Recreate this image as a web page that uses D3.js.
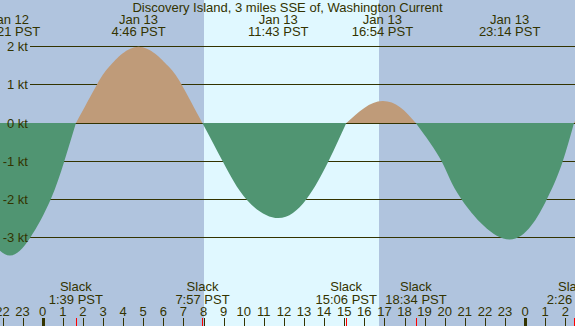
<!DOCTYPE html>
<html>
  <head>
    <title>Discovery Island Current</title>
    <script src="https://d3js.org/d3.v7.min.js"></script>
  </head>
  <body style="margin:0">
    <div id="root"></div>
    <script>
// Chart data: hours are counted from Jan 13 00:00 PST
var title = "Discovery Island, 3 miles SSE of, Washington Current";

var eventDays  = ["Jan 12", "Jan 13", "Jan 13", "Jan 13", "Jan 13"];
var eventTimes = ["22:21 PST", "4:46 PST", "11:43 PST", "16:54 PST", "23:14 PST"];
var eventHours = [-1.65, 4.77, 11.72, 16.9, 23.23];

var slackTimes = ["1:39 PST", "7:57 PST", "15:06 PST", "18:34 PST", "2:26 PST"];
var slackHours = [1.65, 7.95, 15.1, 18.57, 26.43];

// points (hour, knots); each slack (0 kt) starts a new flood/ebb piece
var curveHours = [-3.65, -2.63, -1.63, -0.63, 0.39, 1.07, 1.65,
                  2.69, 3.35, 4.77, 6.23, 6.92, 7.95,
                  8.96, 10.15, 11.72, 13.1, 14.21, 15.1,
                  16.0, 16.9, 17.78, 18.57,
                  19.85, 20.85, 23.23, 25.07, 25.87, 26.43,
                  27.3];
var curveKnots = [-2.0, -3.0, -3.46, -3.0, -2.0, -1.0, 0,
                  1.0, 1.5, 2.0, 1.5, 1.0, 0,
                  -1.0, -2.0, -2.48, -2.0, -1.0, 0,
                  0.4, 0.58, 0.42, 0,
                  -1.0, -2.0, -3.04, -2.0, -1.0, 0,
                  1.0];

var ktLevels = [2, 1, 0, -1, -2, -3];
var ktLabels = ["2 kt", "1 kt", "0 kt", "-1 kt", "-2 kt", "-3 kt"];

var hourTicks  = [-2, -1, 0, 1, 2, 3, 4, 5, 6, 7, 8, 9, 10, 11, 12, 13, 14, 15, 16, 17, 18,
                  19, 20, 21, 22, 23, 24, 25, 26];
var hourLabels = ["22", "23", "0", "1", "2", "3", "4", "5", "6", "7", "8", "9", "10", "11", "12",
                  "13", "14", "15", "16", "17", "18", "19", "20", "21", "22", "23", "0", "1", "2"];

var sunrise = 8.02, sunset = 16.73;

var width = 575, height = 326;
var nightColor = "#b0c4de", dayColor = "#e0f8ff";
var floodColor = "#bf9b79", ebbColor = "#509572";
var ink = "#333300";
var font = "Liberation Sans, Arial, sans-serif";

var svg = d3.select("#root").append("svg")
    .attr("width", width)
    .attr("height", height)
    .style("display", "block")
    .style("font-family", font)
    .style("font-size", "13px");

var x = d3.scaleLinear().domain([0, 24]).range([42.7, 525.1]);
var y = d3.scaleLinear().domain([-3, 2]).range([237.95, 46.7]);
var zeroY = Math.floor(y(0));

// night / day background
svg.append("rect").attr("width", width).attr("height", height).attr("fill", nightColor);
svg.append("rect")
    .attr("x", Math.round(x(sunrise)))
    .attr("width", Math.round(x(sunset)) - Math.round(x(sunrise)))
    .attr("height", height)
    .attr("fill", dayColor);

// grid lines
svg.append("g").selectAll("line")
    .data(ktLevels)
    .enter().append("line")
        .attr("x1", 30).attr("x2", width)
        .attr("y1", d => Math.floor(y(d)) + 0.5)
        .attr("y2", d => Math.floor(y(d)) + 0.5)
        .attr("stroke", ink);

// current curve, split into flood / ebb pieces at each slack
var pieces = [], piece = [];
curveHours.forEach(function(h, i) {
    var p = {h: h, v: curveKnots[i]};
    piece.push(p);
    if (p.v == 0 && piece.length > 1) { pieces.push(piece); piece = [p]; }
});
if (piece.length > 1) pieces.push(piece);

var area = d3.area()
    .x(d => x(d.h))
    .y0(zeroY)
    .y1(d => y(d.v))
    .curve(d3.curveNatural);

var defs = svg.append("defs");
defs.append("clipPath").attr("id", "above")
  .append("rect").attr("width", width).attr("height", zeroY);
defs.append("clipPath").attr("id", "below")
  .append("rect").attr("y", zeroY).attr("width", width).attr("height", height - zeroY);

svg.append("g").selectAll("path")
    .data(pieces)
    .enter().append("path")
        .attr("d", area)
        .attr("fill", d => d3.sum(d, p => p.v) > 0 ? floodColor : ebbColor)
        .attr("clip-path", d => d3.sum(d, p => p.v) > 0 ? "url(#above)" : "url(#below)");

// knot labels
svg.append("g").selectAll("text")
    .data(ktLevels)
    .enter().append("text")
        .attr("x", 28)
        .attr("y", d => Math.floor(y(d)) + 5)
        .attr("text-anchor", "end")
        .attr("fill", ink)
        .text((d, i) => ktLabels[i]);

// title and max/min labels
svg.append("text")
    .attr("x", width / 2).attr("y", 12)
    .attr("text-anchor", "middle")
    .attr("fill", ink)
    .text(title);

var peaks = svg.append("g").selectAll("g")
    .data(eventHours)
    .enter().append("g")
    .attr("text-anchor", "middle")
    .attr("fill", ink);
peaks.append("text").attr("x", d => x(d)).attr("y", 24).text((d, i) => eventDays[i]);
peaks.append("text").attr("x", d => x(d)).attr("y", 36).text((d, i) => eventTimes[i]);

// slack labels
var slack = svg.append("g").selectAll("g")
    .data(slackHours)
    .enter().append("g")
    .attr("text-anchor", "middle")
    .attr("fill", ink);
slack.append("text").attr("x", d => x(d)).attr("y", 291).text("Slack");
slack.append("text").attr("x", d => x(d)).attr("y", 304).text((d, i) => slackTimes[i]);

// hour axis
svg.append("g").selectAll("text")
    .data(hourTicks)
    .enter().append("text")
        .attr("x", d => x(d))
        .attr("y", 316)
        .attr("text-anchor", "middle")
        .attr("fill", ink)
        .text((d, i) => hourLabels[i]);

svg.append("g").selectAll("line")
    .data(hourTicks.filter(d => d % 24 != 0))
    .enter().append("line")
        .attr("x1", d => Math.round(x(d)) + 0.5)
        .attr("x2", d => Math.round(x(d)) + 0.5)
        .attr("y1", 318).attr("y2", height)
        .attr("stroke", ink);

svg.append("g").selectAll("rect")
    .data(hourTicks.filter(d => d % 24 == 0))
    .enter().append("rect")
        .attr("x", d => Math.round(x(d)) - 1)
        .attr("y", 318)
        .attr("width", 3)
        .attr("height", height - 318)
        .attr("fill", ink);

svg.append("g").selectAll("line")
    .data(slackHours)
    .enter().append("line")
        .attr("x1", d => Math.round(x(d)) + 0.5)
        .attr("x2", d => Math.round(x(d)) + 0.5)
        .attr("y1", 318).attr("y2", height)
        .attr("stroke", "red");
</script>
  </body>
</html>
